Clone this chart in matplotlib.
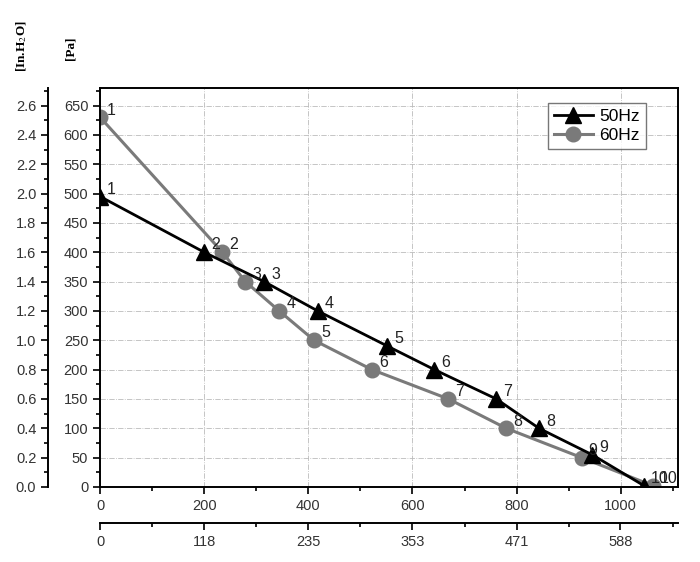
import numpy as np
import matplotlib
matplotlib.use("Agg")
import matplotlib.pyplot as plt
from matplotlib.ticker import MultipleLocator

plt.rcParams['font.family'] = ['Liberation Sans', 'DejaVu Sans']
plt.rcParams['mathtext.fontset'] = 'stix'

# flow [m3/h] and static pressure [Pa]
flow_50 = [0, 200, 315, 418, 552, 642, 761, 843, 945, 1045]
pres_50 = [495, 400, 350, 300, 240, 200, 150, 100, 55, 2]
flow_60 = [0, 235, 279, 344, 411, 522, 669, 780, 925, 1062]
pres_60 = [630, 400, 350, 300, 250, 200, 150, 100, 50, 2]
point_ids = ['1', '2', '3', '4', '5', '6', '7', '8', '9', '10']

cfm_ticks = [0, 118, 235, 353, 471, 588]
m3h_per_cfm = 1.699
pa_per_inh2o = 250.0

fig = plt.figure(figsize=(7, 5.62), dpi=100)
ax = fig.add_axes([0.143, 0.1335, 0.8256, 0.71])

ax.plot(flow_50, pres_50, '-^', color='black', lw=2, ms=11, label='50Hz', zorder=3)
ax.plot(flow_60, pres_60, '-o', color='#7a7a7a', lw=2.2, ms=10.5, label='60Hz', zorder=2)

for x, y, t in zip(flow_50, pres_50, point_ids):
    ax.annotate(t, (x, y), xytext=(5, 2), textcoords='offset points', fontsize=11.5,
                color='#222222', zorder=4)
for x, y, t in zip(flow_60, pres_60, point_ids):
    ax.annotate(t, (x, y), xytext=(5, 2), textcoords='offset points', fontsize=11.5,
                color='#222222', zorder=4)

ax.set_xlim(0, 1110)
ax.set_ylim(0, 680)
ax.xaxis.set_major_locator(MultipleLocator(200))
ax.xaxis.set_minor_locator(MultipleLocator(100))
ax.yaxis.set_major_locator(MultipleLocator(50))
ax.yaxis.set_minor_locator(MultipleLocator(25))
ax.grid(True, which='major', linestyle='-.', color='#bbbbbb', lw=0.6)
for s in ax.spines.values():
    s.set_linewidth(1.4)
ax.tick_params(which='both', width=1.4, labelsize=10.5, color='#222222',
               labelcolor='#333333')
ax.tick_params(which='major', length=5)
ax.tick_params(which='minor', length=3)

# In.H2O axis on the far left
ay = ax.secondary_yaxis(-0.09, functions=(lambda p: p / pa_per_inh2o,
                                          lambda i: i * pa_per_inh2o))
ay.yaxis.set_major_locator(MultipleLocator(0.2))
ay.yaxis.set_minor_locator(MultipleLocator(0.1))
ay.yaxis.set_major_formatter(matplotlib.ticker.FormatStrFormatter('%.1f'))
ay.spines['left'].set_linewidth(1.4)
ay.spines['left'].set_bounds(0, 2.72)
ay.tick_params(which='both', width=1.4, labelsize=10.5, color='#222222',
               labelcolor='#333333')
ay.tick_params(which='major', length=5)
ay.tick_params(which='minor', length=3)

# CFM axis below
axx = ax.secondary_xaxis(-0.09, functions=(lambda m: m / m3h_per_cfm,
                                           lambda c: c * m3h_per_cfm))
axx.set_xticks(np.array(cfm_ticks) * 200 / 117.7 / m3h_per_cfm,
               [str(c) for c in cfm_ticks])
axx.xaxis.set_minor_locator(matplotlib.ticker.FixedLocator(
    np.arange(100, 1110, 200) / m3h_per_cfm))
axx.spines['bottom'].set_linewidth(1.4)
axx.tick_params(which='both', width=1.4, labelsize=10.5, color='#222222',
                labelcolor='#333333')
axx.tick_params(which='major', length=5)
axx.tick_params(which='minor', length=3)

leg = ax.legend(loc='upper right', bbox_to_anchor=(0.96, 0.985), fontsize=12.5,
                frameon=True, fancybox=False, handlelength=2.2, borderpad=0.35,
                labelspacing=0.25, handletextpad=0.4)
leg.get_frame().set_edgecolor('#555555')
leg.get_frame().set_linewidth(1.0)

fig.text(0.031, 0.918, '[In.H$_2$O]', rotation=90, ha='center', va='center',
         fontsize=9.5, family='Liberation Serif', fontweight='bold')
fig.text(0.1, 0.915, '[Pa]', rotation=90, ha='center', va='center',
         fontsize=9.5, family='Liberation Serif', fontweight='bold')

fig.savefig('out.png', dpi=100)
